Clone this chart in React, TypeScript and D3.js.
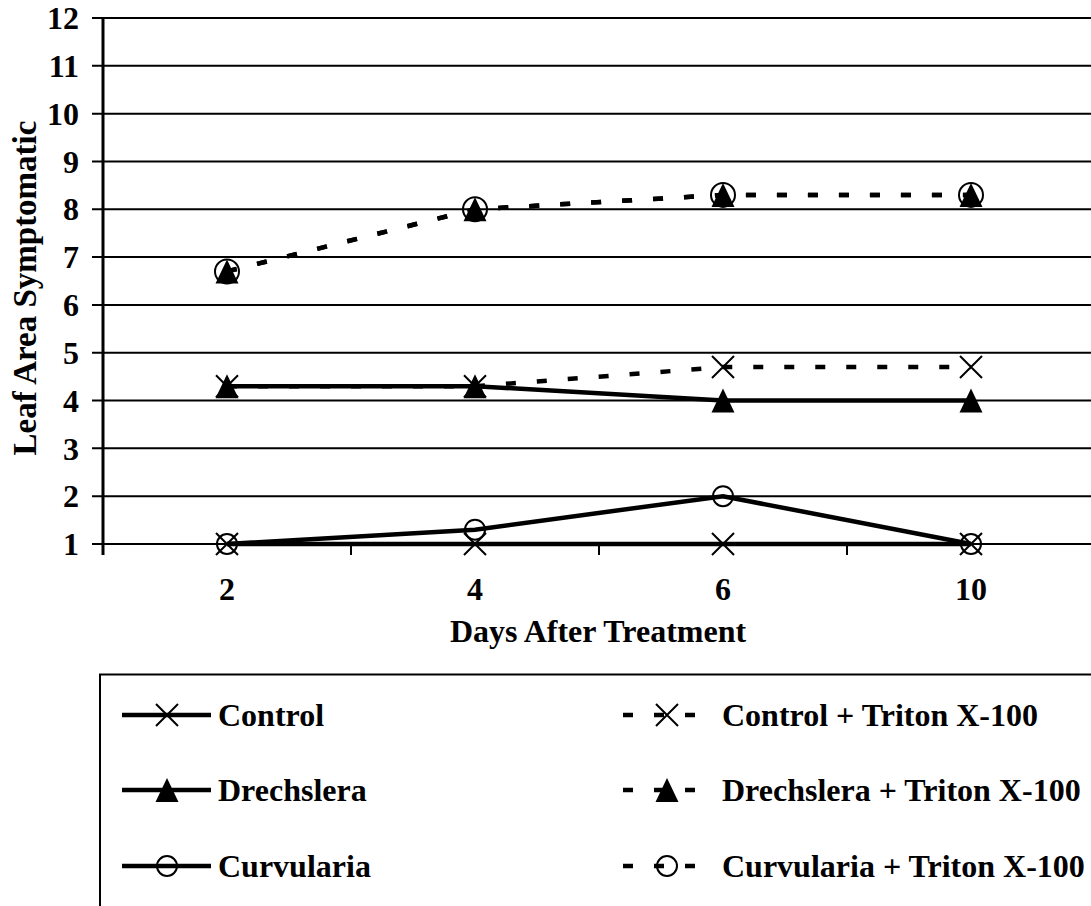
import React from "react";
import * as d3 from "d3";

const days = ["2", "4", "6", "10"];
const yTicks = [1, 2, 3, 4, 5, 6, 7, 8, 9, 10, 11, 12];

const control = [1, 1, 1, 1];
const drechslera = [4.3, 4.3, 4.0, 4.0];
const curvularia = [1, 1.3, 2.0, 1];
const controlTriton = [4.3, 4.3, 4.7, 4.7];
const drechsleraTriton = [6.7, 8.0, 8.3, 8.3];
const curvulariaTriton = [6.7, 8.0, 8.3, 8.3];

type Marker = "x" | "tri" | "circle" | "bigcircle";
const seriesNames = [
  "Control",
  "Drechslera",
  "Curvularia",
  "Control + Triton X-100",
  "Drechslera + Triton X-100",
  "Curvularia + Triton X-100",
];
const seriesValues = [control, drechslera, curvularia, controlTriton, drechsleraTriton, curvulariaTriton];
const seriesMarkers: Marker[] = ["x", "tri", "circle", "x", "tri", "bigcircle"];
const seriesDashed = [false, false, false, true, true, true];

const FONT = "Liberation Serif, Times New Roman, serif";

function MarkerShape({ kind, cx, cy }: { kind: Marker; cx: number; cy: number }) {
  if (kind === "x") {
    const s = 11;
    return (
      <path
        d={`M${cx - s},${cy - s}L${cx + s},${cy + s}M${cx - s},${cy + s}L${cx + s},${cy - s}`}
        stroke="#000"
        strokeWidth={2}
        fill="none"
      />
    );
  }
  if (kind === "tri") {
    const w = 11.5;
    const h = 12;
    return <path d={`M${cx},${cy - h}L${cx + w},${cy + h}L${cx - w},${cy + h}Z`} fill="#000" />;
  }
  const r = kind === "bigcircle" ? 12 : 10;
  return <circle cx={cx} cy={cy} r={r} fill="none" stroke="#000" strokeWidth={2} />;
}

export default function App() {
  const W = 1091;
  const H = 906;
  const left = 103;
  const right = 1095;
  const top = 18;
  const bottom = 544;

  const x = d3.scaleBand<string>().domain(days).range([left, right]).padding(0);
  const cx = (d: string) => (x(d) as number) + x.bandwidth() / 2;
  const y = d3.scaleLinear().domain([1, 12]).range([bottom, top]);

  const line = d3
    .line<number>()
    .x((_, i) => cx(days[i]))
    .y((v) => y(v));

  const boundaries = days.map((d) => x(d) as number).concat([right]);

  const legendRows = [715, 790, 866];

  return (
    <svg
      width={W}
      height={H}
      style={{ position: "absolute", left: 0, top: 0, background: "#fff" }}
      fontFamily={FONT}
      fontWeight="bold"
    >
      <rect x={0} y={0} width={W} height={H} fill="#fff" />
      {yTicks.map((t) => (
        <line key={"g" + t} x1={left - 11} x2={right} y1={y(t)} y2={y(t)} stroke="#000" strokeWidth={2} />
      ))}
      <line x1={left} x2={left} y1={top - 1} y2={bottom + 11} stroke="#000" strokeWidth={3} />
      {boundaries.map((b, i) => (
        <line key={"xt" + i} x1={b} x2={b} y1={bottom} y2={bottom + 11} stroke="#000" strokeWidth={2} />
      ))}
      {yTicks.map((t) => (
        <text key={"yl" + t} x={79} y={y(t)} dy="0.35em" textAnchor="end" fontSize={32}>
          {t}
        </text>
      ))}
      {days.map((d) => (
        <text key={"xl" + d} x={cx(d)} y={600} textAnchor="middle" fontSize={32}>
          {d}
        </text>
      ))}
      <text x={598} y={642} textAnchor="middle" fontSize={32}>
        Days After Treatment
      </text>
      <text transform={`translate(36,288) rotate(-90)`} textAnchor="middle" fontSize={33}>
        Leaf Area Symptomatic
      </text>

      {seriesValues.map((vals, si) => (
        <path
          key={"l" + si}
          d={line(vals) as string}
          fill="none"
          stroke="#000"
          strokeWidth={4.5}
          strokeDasharray={seriesDashed[si] ? "10,21" : undefined}
        />
      ))}
      {seriesValues.map((vals, si) =>
        vals.map((v, i) => (
          <MarkerShape key={"m" + si + "-" + i} kind={seriesMarkers[si]} cx={cx(days[i])} cy={y(v)} />
        ))
      )}

      <rect x={100} y={674.5} width={1100} height={400} fill="none" stroke="#000" strokeWidth={2} />
      {legendRows.map((ly, r) => (
        <g key={"lg" + r}>
          <line x1={122} x2={211} y1={ly} y2={ly} stroke="#000" strokeWidth={4.5} />
          <MarkerShape kind={seriesMarkers[r] === "bigcircle" ? "circle" : seriesMarkers[r]} cx={167} cy={ly} />
          <text x={218} y={ly} dy="0.35em" fontSize={32}>
            {seriesNames[r]}
          </text>
          <line x1={623} x2={712} y1={ly} y2={ly} stroke="#000" strokeWidth={4.5} strokeDasharray="10,21" />
          <MarkerShape kind={seriesMarkers[r + 3] === "bigcircle" ? "circle" : seriesMarkers[r + 3]} cx={667} cy={ly} />
          <text x={722} y={ly} dy="0.35em" fontSize={32}>
            {seriesNames[r + 3]}
          </text>
        </g>
      ))}
    </svg>
  );
}
